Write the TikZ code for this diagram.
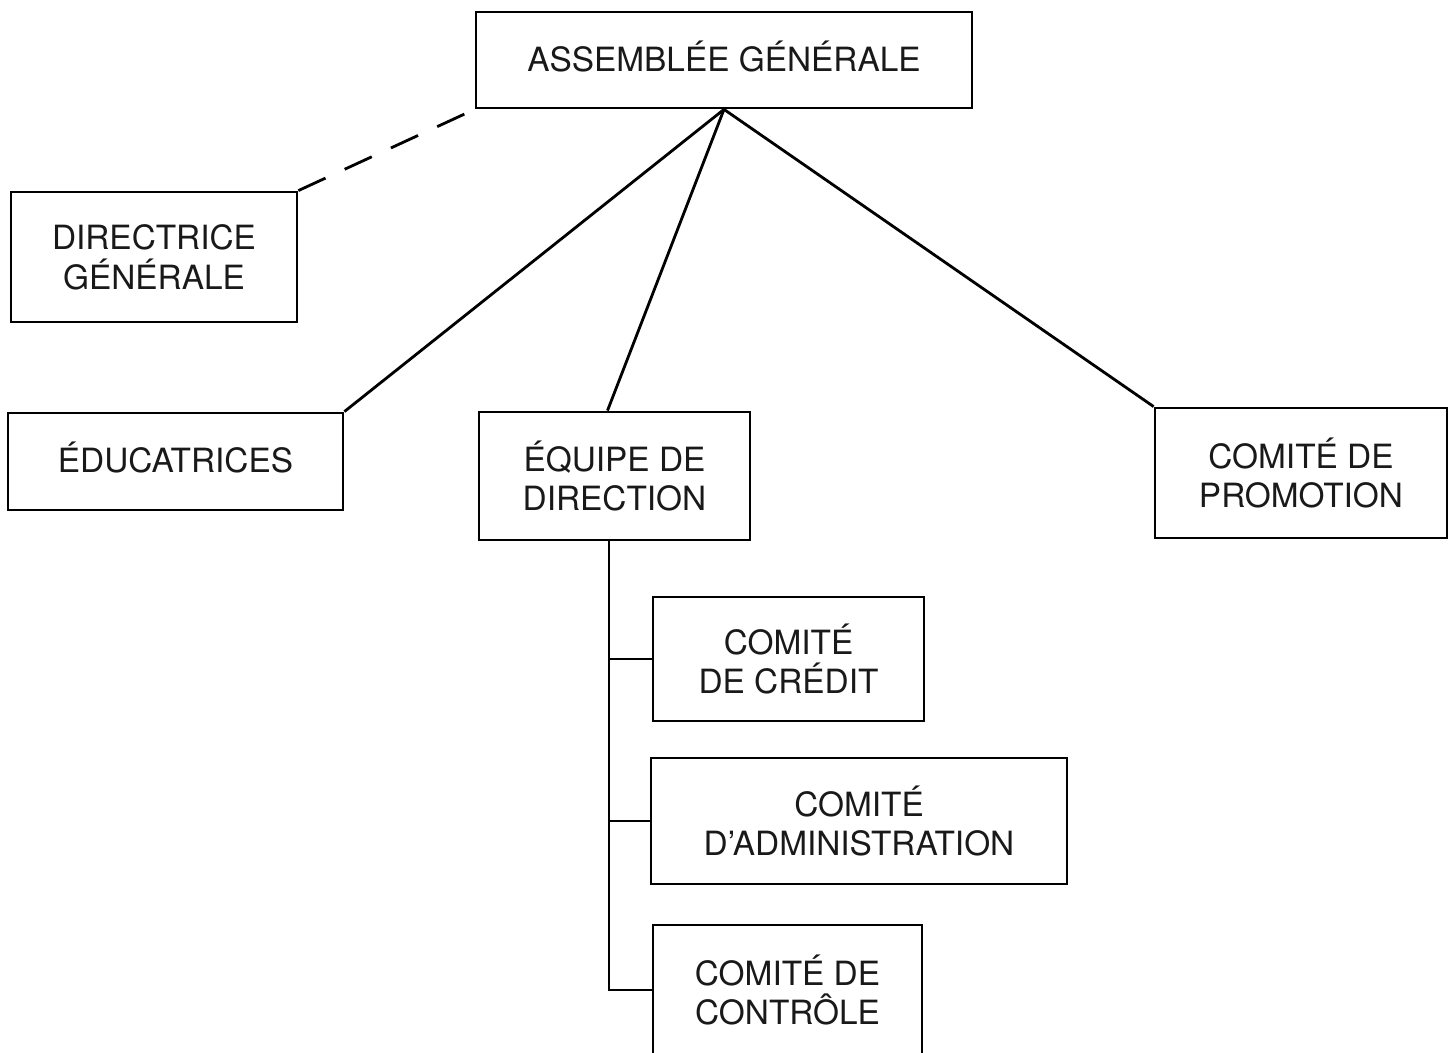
\documentclass[tikz,border=0pt]{standalone}
\usepackage{fontspec}
\setmainfont{TeX Gyre Heros}
\begin{document}
\begin{tikzpicture}[x=0.02cm,y=-0.02cm,
  box/.style={draw, line width=1.6pt, inner sep=0pt, align=center,
    font=\fontsize{19pt}{22.7pt}\selectfont, text=black!90},
  link/.style={line width=1.6pt},
  dashlink/.style={line width=1.6pt, dash pattern=on 17pt off 12pt}]
\useasboundingbox (0,0) rectangle (1451,1053);
\clip (0,0) rectangle (1451,1053);
\fill[white] (0,0) rectangle (1451,1053);
\node[box, minimum width=9.92cm, minimum height=1.92cm] (ag) at (724,60) {\raisebox{2.3pt}[\height][0pt]{ASSEMBLÉE GÉNÉRALE}};
\node[box, minimum width=5.72cm, minimum height=2.6cm] (dg) at (154,257) {DIRECTRICE\\GÉNÉRALE};
\node[box, minimum width=6.7cm, minimum height=1.94cm] (ed) at (175.5,461.5) {\raisebox{2.6pt}[\height][0pt]{ÉDUCATRICES}};
\node[box, minimum width=5.42cm, minimum height=2.56cm] (eq) at (614.5,476) {ÉQUIPE DE\\DIRECTION};
\node[box, minimum width=5.84cm, minimum height=2.6cm] (cp) at (1301,473) {COMITÉ DE\\PROMOTION};
\node[box, minimum width=5.42cm, minimum height=2.48cm] (cc) at (788.5,659) {COMITÉ\\DE CRÉDIT};
\node[box, minimum width=8.32cm, minimum height=2.52cm] (ca) at (859,821) {COMITÉ\\D’ADMINISTRATION};
\node[box, minimum width=5.38cm, minimum height=2.6cm] (ct) at (787.5,990) {COMITÉ DE\\CONTRÔLE};
\coordinate (t) at (609,990);
\draw[dashlink] (dg.north east) -- (ag.south west);
\draw[link] (ag.south) -- (ed.north east);
\draw[link] (ag.south) -- ([xshift=-0.14cm]eq.north);
\draw[link] (ag.south) -- (cp.north west);
\draw[link] (t |- eq.south) |- (ct.west);
\draw[link] (cc.west) -- (cc.west -| t);
\draw[link] (ca.west) -- (ca.west -| t);
\end{tikzpicture}
\end{document}
